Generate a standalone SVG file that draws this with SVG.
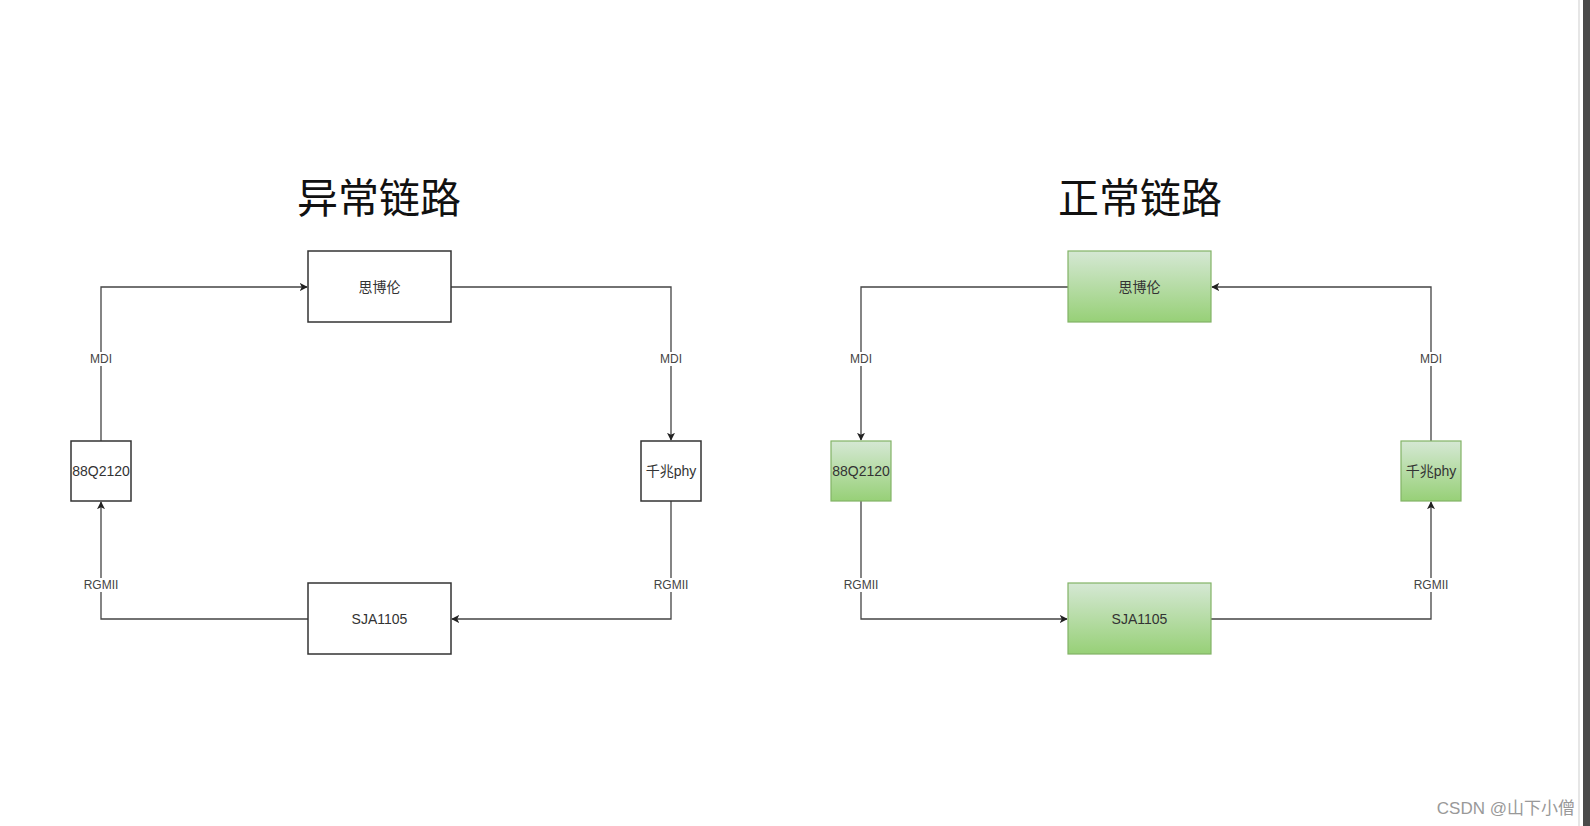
<svg xmlns="http://www.w3.org/2000/svg" width="1590" height="826" viewBox="0 0 1590 826">
<style>
.title{font-family:"Noto Sans CJK SC","Liberation Sans",sans-serif;font-size:41px;fill:#111;text-anchor:middle}
.box{fill:#fff;stroke:#333;stroke-width:1.5}
.gbox{fill:url(#g);stroke:#82b366;stroke-width:1.2}
.lbl{font-family:"Liberation Sans","Noto Sans CJK SC",sans-serif;font-size:14px;fill:#333;text-anchor:middle;dominant-baseline:central}
.el{font-family:"Liberation Sans",sans-serif;font-size:12px;fill:#444;text-anchor:middle;dominant-baseline:central}
.lb{fill:#fff}
.c{fill:none;stroke:#444;stroke-width:1.3;marker-end:url(#a)}
</style>
<defs>
<linearGradient id="g" x1="0" y1="0" x2="0" y2="1">
<stop offset="0" stop-color="#d5e8d4"/>
<stop offset="1" stop-color="#97d077"/>
</linearGradient>
<marker id="a" viewBox="0 0 10 10" refX="9" refY="5" markerWidth="8" markerHeight="8" markerUnits="userSpaceOnUse" orient="auto">
<path d="M0,0 L10,5 L0,10 L2.5,5 z" fill="#222"/>
</marker>
</defs>
<rect width="1590" height="826" fill="#fff"/>
<line x1="1579" y1="0" x2="1579" y2="826" stroke="#e6e6e6" stroke-width="2"/>
<rect x="1583" y="0" width="7" height="826" fill="#4a4a4a"/>

<text class="title" x="379" y="213">异常链路</text>
<text class="title" x="1140" y="213">正常链路</text>

<g id="connectors">
<path class="c" d="M101,441 V287 H307"/>
<path class="c" d="M451,287 H671 V440"/>
<path class="c" d="M671,501 V619 H452"/>
<path class="c" d="M308,619 H101 V502"/>
<path class="c" d="M1068,287 H861 V440"/>
<path class="c" d="M861,501 V619 H1067"/>
<path class="c" d="M1211,619 H1431 V502"/>
<path class="c" d="M1431,441 V287 H1212"/>
</g>
<g id="edge-labels">
<rect class="lb" x="88" y="352" width="26" height="14"/><text class="el" x="101" y="359">MDI</text>
<rect class="lb" x="658" y="352" width="26" height="14"/><text class="el" x="671" y="359">MDI</text>
<rect class="lb" x="82" y="578" width="38" height="14"/><text class="el" x="101" y="585">RGMII</text>
<rect class="lb" x="652" y="578" width="38" height="14"/><text class="el" x="671" y="585">RGMII</text>
<rect class="lb" x="848" y="352" width="26" height="14"/><text class="el" x="861" y="359">MDI</text>
<rect class="lb" x="1418" y="352" width="26" height="14"/><text class="el" x="1431" y="359">MDI</text>
<rect class="lb" x="842" y="578" width="38" height="14"/><text class="el" x="861" y="585">RGMII</text>
<rect class="lb" x="1412" y="578" width="38" height="14"/><text class="el" x="1431" y="585">RGMII</text>
</g>

<g id="l-spirent"><rect class="box" x="308" y="251" width="143" height="71"/><text class="lbl" x="379.5" y="286.5">思博伦</text></g>
<g id="l-88q2120"><rect class="box" x="71" y="441" width="60" height="60"/><text class="lbl" x="101" y="471">88Q2120</text></g>
<g id="l-phy"><rect class="box" x="641" y="441" width="60" height="60"/><text class="lbl" x="671" y="471">千兆phy</text></g>
<g id="l-sja1105"><rect class="box" x="308" y="583" width="143" height="71"/><text class="lbl" x="379.5" y="618.5">SJA1105</text></g>

<g id="r-spirent"><rect class="gbox" x="1068" y="251" width="143" height="71"/><text class="lbl" x="1139.5" y="286.5">思博伦</text></g>
<g id="r-88q2120"><rect class="gbox" x="831" y="441" width="60" height="60"/><text class="lbl" x="861" y="471">88Q2120</text></g>
<g id="r-phy"><rect class="gbox" x="1401" y="441" width="60" height="60"/><text class="lbl" x="1431" y="471">千兆phy</text></g>
<g id="r-sja1105"><rect class="gbox" x="1068" y="583" width="143" height="71"/><text class="lbl" x="1139.5" y="618.5">SJA1105</text></g>

<text x="1575" y="814" font-family="'Liberation Sans','Noto Sans CJK SC',sans-serif" font-size="17" fill="#999" text-anchor="end">CSDN @山下小僧</text>
</svg>
